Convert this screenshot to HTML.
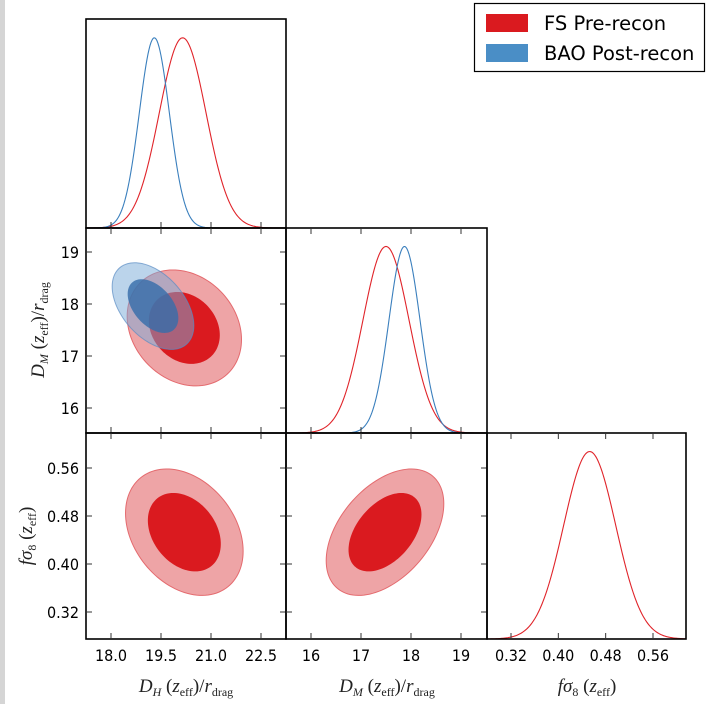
<!DOCTYPE html>
<html><head><meta charset="utf-8"><style>
body{margin:0;background:#fff;width:707px;height:704px;overflow:hidden;}
svg{display:block}
.tk{font-family:"DejaVu Sans Condensed","DejaVu Sans","Liberation Sans",sans-serif;font-stretch:condensed;font-size:16px;fill:#000}
.al{font-family:"Liberation Serif",serif;font-style:italic;font-size:19px;fill:#222}
</style></head><body>
<svg id="c" width="707" height="704">
<rect x="0" y="0" width="5" height="704" fill="#d5d5d5"/>
</svg>
<script>
// ---- data ----
const paramNames = ["DH", "DM", "fs8"];
const dhTicks = [18.0, 19.5, 21.0, 22.5];
const dhTickLabels = ["18.0", "19.5", "21.0", "22.5"];
const dmTicks = [16, 17, 18, 19];
const dmTickLabels = ["16", "17", "18", "19"];
const fsTicks = [0.32, 0.40, 0.48, 0.56];
const fsTickLabels = ["0.32", "0.40", "0.48", "0.56"];
// 1D marginals: [mean, sigma]
const fsMarginalDH = [20.15, 0.70];
const baoMarginalDH = [19.3, 0.45];
const fsMarginalDM = [17.5, 0.46];
const baoMarginalDM = [17.87, 0.31];
const fsMarginalFs8 = [0.453, 0.044];
// 2D contours: [meanX, meanY, sigmaX, sigmaY, rho]
const fsDHDM = [20.2, 17.54, 0.70, 0.455, -0.2];
const baoDHDM = [19.26, 17.96, 0.50, 0.34, -0.45];
const fsDHfs8 = [20.2, 0.453, 0.72, 0.043, -0.3];
const fsDMfs8 = [17.48, 0.453, 0.48, 0.043, 0.45];

// ---- layout ----
const svg = document.getElementById('c');
const NS = 'http://www.w3.org/2000/svg';
const colX = [86, 286, 487, 686];
const rowY = [19, 228, 433, 639];
function lin(d0, d1, p0, p1){ return v => p0 + (v - d0) / (d1 - d0) * (p1 - p0); }
const xDH = lin(18.0, 22.5, 111, 261);
const xDM = lin(16, 19, 311, 461);
const xFS = lin(0.32, 0.56, 511, 653);
const yDM = lin(19, 16, 252, 408);
const yFS = lin(0.56, 0.32, 468, 612);

function el(tag, attrs, parent){
  const e = document.createElementNS(NS, tag);
  for (const k in attrs) e.setAttribute(k, attrs[k]);
  (parent || svg).appendChild(e);
  return e;
}
function clip(id, c, r){
  const d = el('clipPath', {id: id});
  el('rect', {x: colX[c], y: rowY[r], width: colX[c+1]-colX[c], height: rowY[r+1]-rowY[r]}, d);
}
clip('c00',0,0);clip('c01',0,1);clip('c11',1,1);clip('c02',0,2);clip('c12',1,2);clip('c22',2,2);

function ellipsePath(p, k, fx, fy){
  const [mx,my,sx,sy,rho] = p;
  let d = '';
  for (let i = 0; i <= 120; i++){
    const t = i / 120 * 2 * Math.PI;
    const x = mx + k * sx * Math.cos(t);
    const y = my + k * sy * (rho * Math.cos(t) + Math.sqrt(1 - rho*rho) * Math.sin(t));
    d += (i ? 'L' : 'M') + fx(x).toFixed(2) + ',' + fy(y).toFixed(2);
  }
  return d + 'Z';
}
function contour(p, fx, fy, cp, light, dark, edge, name){
  const g = el('g', {'clip-path': 'url(#' + cp + ')'});
  
  
  const o = el('path', {d: ellipsePath(p, 2.45, fx, fy), fill: light, stroke: edge, 'stroke-width': 1}, g);
  
  
  const i = el('path', {d: ellipsePath(p, 1.52, fx, fy), fill: dark}, g);
  
  
}
function marginal(m, fx, c, r, color, name){
  const x0 = colX[c], x1 = colX[c+1], top = rowY[r], bot = rowY[r+1];
  let d = '';
  const a = fx(0), b = fx(1);
  for (let px = x0; px <= x1; px++){
    const v = (px - a) / (b - a);
    const g = Math.exp(-0.5 * Math.pow((v - m[0]) / m[1], 2));
    const y = bot - 0.91 * (bot - top) * g;
    d += (px === x0 ? 'M' : 'L') + px + ',' + y.toFixed(2);
  }
  const p = el('path', {d: d, fill: 'none', stroke: color, 'stroke-width': 1.1, 'clip-path': 'url(#c' + c + r + ')'});
  
  
}

contour(fsDHDM, xDH, yDM, 'c01', '#eea4a6', '#da1a1f', '#e46a6e', 'fs-dh-dm-contour');
contour(baoDHDM, xDH, yDM, 'c01', 'rgba(120,170,215,0.5)', 'rgba(55,110,170,0.82)', 'rgba(90,140,195,0.7)', 'bao-dh-dm-contour');
contour(fsDHfs8, xDH, yFS, 'c02', '#eea4a6', '#da1a1f', '#e46a6e', 'fs-dh-fs8-contour');
contour(fsDMfs8, xDM, yFS, 'c12', '#eea4a6', '#da1a1f', '#e46a6e', 'fs-dm-fs8-contour');
marginal(fsMarginalDH, xDH, 0, 0, '#e0242a', 'fs-dh-marginal');
marginal(baoMarginalDH, xDH, 0, 0, '#3a7fbd', 'bao-dh-marginal');
marginal(fsMarginalDM, xDM, 1, 1, '#e0242a', 'fs-dm-marginal');
marginal(baoMarginalDM, xDM, 1, 1, '#3a7fbd', 'bao-dm-marginal');
marginal(fsMarginalFs8, xFS, 2, 2, '#e0242a', 'fs-fs8-marginal');

const panels = [[0,0],[0,1],[1,1],[0,2],[1,2],[2,2]];
const xt = [[dhTicks,xDH],[dmTicks,xDM],[fsTicks,xFS]];
const yt = {1:[dmTicks,yDM], 2:[fsTicks,yFS]};
panels.forEach(([c,r]) => {
  const x0=colX[c],x1=colX[c+1],y0=rowY[r],y1=rowY[r+1];
  const f = el('rect',{x:x0,y:y0,width:x1-x0,height:y1-y0,fill:'none',stroke:'#000','stroke-width':1.6});
  
  
  const [tv,fx] = xt[c];
  tv.forEach(v => {
    el('line',{x1:fx(v),x2:fx(v),y1:y1,y2:y1-6,stroke:'#333','stroke-width':1});
    if (r>0) el('line',{x1:fx(v),x2:fx(v),y1:y0,y2:y0+6,stroke:'#333','stroke-width':1});
  });
  if (yt[r] && c<r){
    const [tv2,fy]=yt[r];
    tv2.forEach(v=>{
      el('line',{x1:x0,x2:x0+6,y1:fy(v),y2:fy(v),stroke:'#333','stroke-width':1});
      el('line',{x1:x1,x2:x1-6,y1:fy(v),y2:fy(v),stroke:'#333','stroke-width':1});
    });
  }
});
function txt(s,x,y,cls,anchor,name){
  const t = el('text',{x:x,y:y,'class':cls,'text-anchor':anchor||'middle'});
  t.textContent = s;
  
  
  return t;
}
dhTicks.forEach((v,i)=>txt(dhTickLabels[i],xDH(v),661,'tk','middle','x-tick-dh'));
dmTicks.forEach((v,i)=>txt(dmTickLabels[i],xDM(v),661,'tk','middle','x-tick-dm'));
fsTicks.forEach((v,i)=>txt(fsTickLabels[i],xFS(v),661,'tk','middle','x-tick-fs8'));
dmTicks.forEach((v,i)=>txt(dmTickLabels[i],79,yDM(v)+6,'tk','end','y-tick-dm'));
fsTicks.forEach((v,i)=>txt(fsTickLabels[i],79,yFS(v)+6,'tk','end','y-tick-fs8'));
</script>
<svg style="position:absolute;left:0;top:0" width="707" height="704">
<text class="al" x="186" y="692" text-anchor="middle">D<tspan font-size="12" dy="4">H</tspan><tspan dy="-4" font-style="normal"> (</tspan>z<tspan font-size="12" dy="4" font-style="normal">eff</tspan><tspan dy="-4" font-style="normal">)/</tspan>r<tspan font-size="12" dy="4" font-style="normal">drag</tspan></text>
<text class="al" x="387" y="692" text-anchor="middle">D<tspan font-size="12" dy="4">M</tspan><tspan dy="-4" font-style="normal"> (</tspan>z<tspan font-size="12" dy="4" font-style="normal">eff</tspan><tspan dy="-4" font-style="normal">)/</tspan>r<tspan font-size="12" dy="4" font-style="normal">drag</tspan></text>
<text class="al" x="587" y="692" text-anchor="middle">fσ<tspan font-size="12" dy="4" font-style="normal">8</tspan><tspan dy="-4" font-style="normal"> (</tspan>z<tspan font-size="12" dy="4" font-style="normal">eff</tspan><tspan dy="-4" font-style="normal">)</tspan></text>
<text class="al" transform="translate(44,330) rotate(-90)" text-anchor="middle">D<tspan font-size="12" dy="4">M</tspan><tspan dy="-4" font-style="normal"> (</tspan>z<tspan font-size="12" dy="4" font-style="normal">eff</tspan><tspan dy="-4" font-style="normal">)/</tspan>r<tspan font-size="12" dy="4" font-style="normal">drag</tspan></text>
<text class="al" transform="translate(32,536) rotate(-90)" text-anchor="middle">fσ<tspan font-size="12" dy="4" font-style="normal">8</tspan><tspan dy="-4" font-style="normal"> (</tspan>z<tspan font-size="12" dy="4" font-style="normal">eff</tspan><tspan dy="-4" font-style="normal">)</tspan></text>
<g>
<rect x="474.5" y="3.5" width="230" height="68" fill="#fff" stroke="#000" stroke-width="1.2"/>
<rect x="486" y="14" width="42" height="18" fill="#da1a1f"/>
<text x="544" y="30" font-family="DejaVu Sans, Liberation Sans, sans-serif" font-size="19.5">FS Pre-recon</text>
<rect x="486" y="44" width="42" height="18" fill="#4a8ec6"/>
<text x="544" y="60" font-family="DejaVu Sans, Liberation Sans, sans-serif" font-size="19.5">BAO Post-recon</text>
</g>
</svg>
</body></html>
